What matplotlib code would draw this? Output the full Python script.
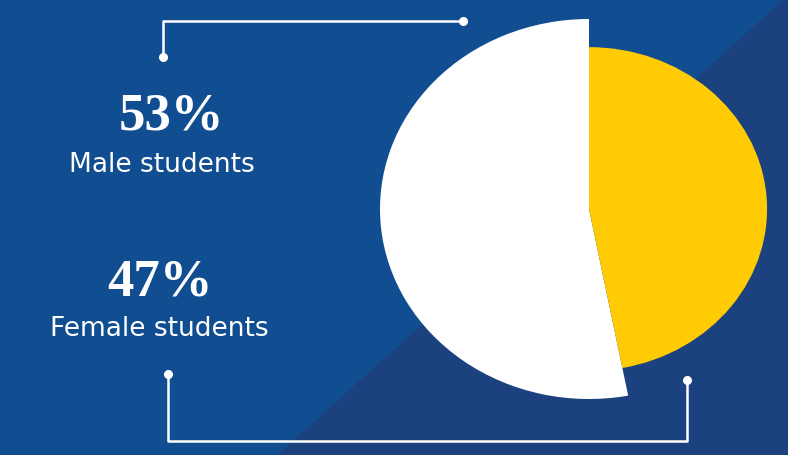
import matplotlib
matplotlib.use("Agg")
import matplotlib.pyplot as plt
from matplotlib.patches import Polygon

# ---- data ----
labels = ["Male students", "Female students"]
shares = [53, 47]
colors = ["#FFFFFF", "#FFCB05"]
radii = [1.0, 0.852]          # white slice sits proud of the yellow one

W, H = 788, 455
BLUE = "#114E91"
BLUE_DARK = "#1B427E"

fig = plt.figure(figsize=(W / 100, H / 100), dpi=100)
fig.patch.set_facecolor(BLUE)

# background + annotations in pixel coords (y down)
bg = fig.add_axes([0, 0, 1, 1])
bg.set_xlim(0, W)
bg.set_ylim(H, 0)
bg.axis("off")
bg.add_patch(Polygon([(783, 0), (W, 0), (W, H), (277, H)],
                     closed=True, color=BLUE_DARK, lw=0, zorder=0))

lc = "white"
# top connector
bg.plot([163, 163, 463], [57, 21, 21], color=lc, lw=1.8, zorder=2)
bg.plot([163, 463], [57, 21], "o", color=lc, ms=5.5, zorder=3)
# bottom connector
bg.plot([168, 168, 687, 687], [374, 441, 441, 380], color=lc, lw=1.8, zorder=2)
bg.plot([168, 687], [374, 380], "o", color=lc, ms=5.5, zorder=3)

# labels
num_font = dict(family="Liberation Serif", weight="bold", color="white")
lab_font = dict(family="DejaVu Sans", color="white")
text_pos = [(171, 130, 162, 172), (160, 295, 159, 336)]
for (nx, ny, lx, ly), lab, val in zip(text_pos, labels, shares):
    bg.text(nx, ny, f"{val}%", fontsize=38, ha="center", va="baseline", **num_font)
    bg.text(lx, ly, lab, fontsize=19, ha="center", va="baseline", **lab_font)

# pie, stretched slightly wider than tall
cx, cy = 589, H - 209
rx, ry = 209, 190
span = 1.25
pw, ph = 2 * span * rx, 2 * span * ry
ax = fig.add_axes([(cx - pw / 2) / W, (cy - ph / 2) / H, pw / W, ph / H])
ax.patch.set_visible(False)
wedges, _ = ax.pie(shares, colors=colors, startangle=90, counterclock=True,
                   wedgeprops=dict(linewidth=0))
for w, r in zip(wedges, radii):
    w.set_radius(r)
ax.set_aspect("auto")
ax.set_xlim(-span, span)
ax.set_ylim(-span, span)
ax.axis("off")

fig.savefig("out.png", dpi=100, facecolor=fig.get_facecolor())
